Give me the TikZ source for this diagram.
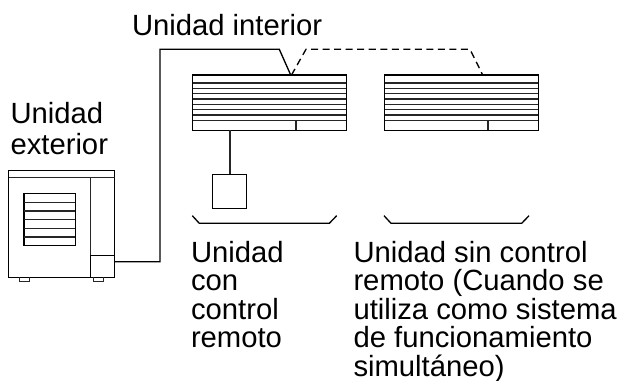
\documentclass[tikz,border=0pt]{standalone}
\usepackage{fontspec}
\setmainfont{Liberation Sans}
\usepackage{tikz}

\tikzset{
  unitbox/.style={draw,line width=0.95pt,inner sep=0pt,outer sep=0pt,anchor=north west},
  slat/.style={line width=0.8pt,black!85},
  wire/.style={line width=0.95pt},
  label/.style={inner sep=0pt,outer sep=0pt,anchor=north west,align=left,font=\fontsize{20.8}{20.2}\selectfont}
}

\begin{document}
\begin{tikzpicture}[x=0.25mm,y=-0.25mm]
        \useasboundingbox (0,0) rectangle (619,381);

        % Draw the outdoor unit
        \node[unitbox,minimum width=2.65cm,minimum height=2.665cm] (outdoor) at (8.7,170.7) {};
        \draw[slat] (8.7,177.7) -- (114.7,177.7);
        \draw[slat] (90.7,177.7) -- (90.7,277.3);
        \node[unitbox,line width=0.8pt,minimum width=0.6cm,minimum height=0.55cm] (valve) at (90.7,255.3) {};

        % Draw the grille of the outdoor unit
        \node[unitbox,line width=0.8pt,minimum width=1.283cm,minimum height=1.3cm] (grille) at (24,193.7) {};
        \foreach \y in {202.4,211,219.7,228.4,237}
            \draw[slat] (24,\y) -- (75.3,\y);

        % Draw the feet
        \draw[slat] (19.3,277.3) -- (19.3,281.7) -- (29.7,281.7) -- (29.7,277.3);
        \draw[slat] (93.7,277.3) -- (93.7,281.7) -- (103.7,281.7) -- (103.7,277.3);

        % Draw the indoor units
        \node[unitbox,minimum width=3.84cm,minimum height=1.383cm] (indoorA) at (192.7,75) {};
        \node[unitbox,minimum width=3.84cm,minimum height=1.383cm] (indoorB) at (384.7,75) {};
        \foreach \u in {indoorA,indoorB}
            \foreach \y in {8,13.3,18.7,24,29.3,34.7,40,45.7}
                \draw[slat] ([yshift=-\y*0.25mm]\u.north west) -- ([yshift=-\y*0.25mm]\u.north east);
        \draw[slat] (296,120.7) -- (296,130.3);
        \draw[slat] (488,120.7) -- (488,130.3);

        % Draw the remote control
        \node[unitbox,minimum width=0.86cm,minimum height=0.86cm] (remote) at (212.3,174.3) {};
        \coordinate (drop) at (230,130.3);
        \draw[slat,line width=0.95pt] (drop) -- (drop |- remote.north);

        % Draw the pipe from outdoor to the first indoor unit
        \coordinate (pipeout) at (114.7,261.7);
        \coordinate (pipein) at (290.7,75);
        \draw[wire] (pipeout) -- (160,261.7) -- (160,49.3) -- (279.3,49.3) -- (pipein);

        % Draw the dashed link between the indoor units
        \coordinate (linkA) at (291.5,75);
        \coordinate (linkB) at (482.7,75);
        \draw[wire,dash pattern=on 5pt off 3.2pt] (linkA) -- (306,49.3) -- (470,49.3) -- (linkB);

        % Draw the brackets
        \draw[wire] (192.3,215.7) -- (199.3,223.3) -- (329.3,223.3) -- (336.7,215.7);
        \draw[wire] (384,215.7) -- (391,223.3) -- (521.7,223.3) -- (529,215.7);

        % Labels
        \node[label] (interior) at (132,14.6) {Unidad interior};
        \node[label] (exterior) at (10.5,102) {Unidad\\[2.3pt]exterior};
        \node[label] (withremote) at (191,241.3) {Unidad\\con\\control\\remoto};
        \node[label] (noremote) at (353.5,241.3) {Unidad sin control\\remoto (Cuando se\\utiliza como sistema\\de funcionamiento\\simultáneo)};
\end{tikzpicture}
\end{document}
